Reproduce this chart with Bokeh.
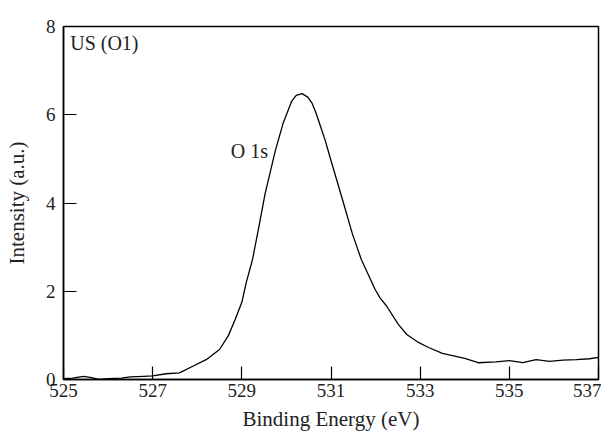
from bokeh.plotting import figure
from bokeh.models import FixedTicker, Label, Range1d
from bokeh.embed import file_html
from bokeh.resources import INLINE

# Binding energy (eV) and intensity (a.u.)
energy = [525.0, 525.2, 525.45, 525.6, 525.8, 526.0, 526.3, 526.5, 526.8, 527.0,
          527.3, 527.6, 527.9, 528.2, 528.5, 528.7, 528.85, 529.0, 529.1, 529.24,
          529.38, 529.52, 529.75, 529.93, 530.12, 530.22, 530.35, 530.48, 530.57,
          530.66, 530.76, 530.87, 530.98, 531.12, 531.28, 531.48, 531.68, 531.99,
          532.1, 532.25, 532.51, 532.7, 532.96, 533.2, 533.5, 534.0, 534.3, 534.7,
          535.0, 535.3, 535.6, 535.9, 536.2, 536.5, 536.8, 537.0]
intensity = [0.02, 0.03, 0.07, 0.05, 0.0, 0.02, 0.03, 0.06, 0.07, 0.08,
             0.13, 0.15, 0.30, 0.45, 0.68, 1.0, 1.36, 1.75, 2.2, 2.72,
             3.45, 4.2, 5.18, 5.82, 6.31, 6.44, 6.48, 6.40, 6.27,
             6.05, 5.75, 5.42, 5.03, 4.55, 4.0, 3.3, 2.72, 2.04,
             1.85, 1.66, 1.25, 1.02, 0.84, 0.72, 0.59, 0.48, 0.38, 0.40,
             0.43, 0.38, 0.45, 0.41, 0.44, 0.45, 0.47, 0.50]

x_ticks = [525, 527, 529, 531, 533, 535, 537]
y_ticks = [0, 2, 4, 6, 8]

FONT = "Liberation Serif"

p = figure(frame_width=535, frame_height=353, output_backend="svg", toolbar_location=None,
           x_range=Range1d(525, 537), y_range=Range1d(0, 8),
           min_border_left=63, min_border_right=3, min_border_top=26, min_border_bottom=49)

p.line(energy, intensity, line_color="black", line_width=1.3, line_join="round")

p.grid.visible = False
p.outline_line_color = "black"
p.outline_line_width = 1.5

for ax in (p.xaxis[0], p.yaxis[0]):
    ax.axis_line_color = "black"
    ax.axis_line_width = 1.5
    ax.major_tick_in = 13
    ax.major_tick_out = 0
    ax.major_tick_line_color = "black"
    ax.major_tick_line_width = 1.2
    ax.minor_tick_line_color = None
    ax.major_label_text_font = FONT
    ax.major_label_text_font_size = "19px"
    ax.major_label_text_color = "#222222"
    ax.axis_label_text_font = FONT
    ax.axis_label_text_font_style = "normal"
    ax.axis_label_text_color = "#222222"

p.xaxis[0].ticker = FixedTicker(ticks=x_ticks)
p.yaxis[0].ticker = FixedTicker(ticks=y_ticks)
p.xaxis[0].axis_label = "Binding Energy (eV)"
p.yaxis[0].axis_label = "Intensity (a.u.)"
p.xaxis[0].axis_label_text_font_size = "21px"
p.yaxis[0].axis_label_text_font_size = "21px"
p.xaxis[0].major_label_standoff = 4
p.xaxis[0].axis_label_standoff = 7
p.yaxis[0].major_label_standoff = 8
p.yaxis[0].axis_label_standoff = 14

p.add_layout(Label(x=525.15, y=7.88, text="US (O1)", text_baseline="top",
                   text_font=FONT, text_font_size="20px", text_color="#222222"))
p.add_layout(Label(x=528.75, y=4.92, text="O 1s", text_baseline="bottom",
                   text_font=FONT, text_font_size="20px", text_color="#222222"))

open("out.html", "w").write(file_html(p, INLINE))
